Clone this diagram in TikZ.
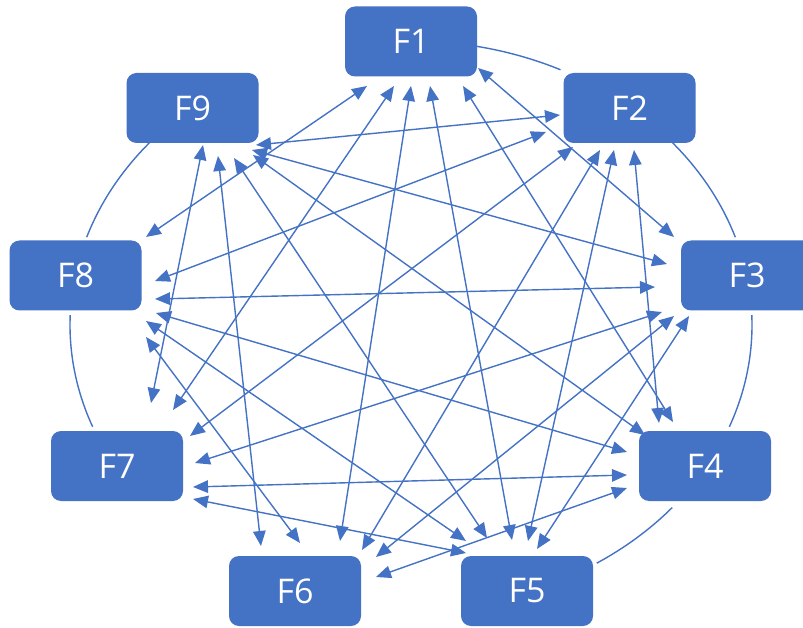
\documentclass[tikz,border=0pt]{standalone}
\usepackage{fontspec}
\setmainfont{Open Sans}
\usetikzlibrary{arrows.meta}
\definecolor{obl}{HTML}{4472C4}
\begin{document}
\begin{tikzpicture}[x=1pt,y=-1pt,
  fbox/.style={fill=obl, rounded corners=10pt, minimum width=132pt, minimum height=70pt, inner sep=0pt, text=white, font=\fontsize{34}{38}\selectfont},
  link/.style={draw=obl, line width=1.4pt, {Triangle[length=15pt,width=12.5pt]}-{Triangle[length=15pt,width=12.5pt]}},
  ring/.style={draw=obl, line width=1.4pt}]
\useasboundingbox (0,0) rectangle (803,628);
\clip (0,0) rectangle (803,628);
% nodes
\node[fbox] (F1) at (411,41.5) {F1};
\node[fbox] (F2) at (629.5,108) {F2};
\node[fbox] (F3) at (747,275.5) {F3};
\node[fbox] (F4) at (705,466) {F4};
\node[fbox] (F5) at (527,591) {F5};
\node[fbox] (F6) at (295,591) {F6};
\node[fbox] (F7) at (117,466) {F7};
\node[fbox] (F8) at (75.5,275.5) {F8};
\node[fbox] (F9) at (192.5,108) {F9};
% ring arcs
\coordinate (O) at (411,325);
\draw[ring] (O) ++(-79:341 and 284) arc[start angle=-79, end angle=-64, x radius=341, y radius=284];
\draw[ring] (O) ++(-40:341 and 284) arc[start angle=-40, end angle=-18, x radius=341, y radius=284];
\draw[ring] (O) ++(-2:341 and 284) arc[start angle=-2, end angle=21, x radius=341, y radius=284];
\draw[ring] (O) ++(40:341 and 284) arc[start angle=40, end angle=57, x radius=341, y radius=284];
\draw[ring] (O) ++(-178:341 and 284) arc[start angle=-178, end angle=-201, x radius=341, y radius=284];
\draw[ring] (O) ++(-162:341 and 284) arc[start angle=-162, end angle=-140, x radius=341, y radius=284];
% link end points
\coordinate (e13) at (478,68);  \coordinate (e31) at (674,237);
\coordinate (e14) at (463,86);  \coordinate (e41) at (673,422);
\coordinate (e15) at (430,86);  \coordinate (e51) at (512,540);
\coordinate (e16) at (411,86);  \coordinate (e61) at (340,541);
\coordinate (e17) at (394,86);  \coordinate (e71) at (173,410);
\coordinate (e18) at (367,86);  \coordinate (e81) at (146,237);
\coordinate (e24) at (634,150); \coordinate (e42) at (659,423);
\coordinate (e25) at (614,150); \coordinate (e52) at (528,541);
\coordinate (e26) at (600,150); \coordinate (e62) at (362,550);
\coordinate (e27) at (573,147); \coordinate (e72) at (190,436);
\coordinate (e28) at (546,132); \coordinate (e82) at (155,281);
\coordinate (e29) at (560,115); \coordinate (e92) at (256,145);
\coordinate (e35) at (689,316); \coordinate (e53) at (537,549);
\coordinate (e36) at (674,316); \coordinate (e63) at (376,557);
\coordinate (e37) at (662,312); \coordinate (e73) at (195,463);
\coordinate (e38) at (655,287); \coordinate (e83) at (155,299);
\coordinate (e39) at (667,264); \coordinate (e93) at (252,150);
\coordinate (e46) at (627,488); \coordinate (e64) at (376,577);
\coordinate (e47) at (627,475); \coordinate (e74) at (193,487);
\coordinate (e48) at (627,452); \coordinate (e84) at (156,313);
\coordinate (e49) at (645,435); \coordinate (e94) at (253,155);
\coordinate (e57) at (466,553); \coordinate (e75) at (193,499);
\coordinate (e58) at (466,541); \coordinate (e85) at (146,321);
\coordinate (e59) at (487,538); \coordinate (e95) at (234,158);
\coordinate (e68) at (300,543); \coordinate (e86) at (146,337);
\coordinate (e69) at (261,546); \coordinate (e96) at (218,156);
\coordinate (e79) at (151,403); \coordinate (e97) at (203,145);
% links
\foreach \a/\b in {1/3,1/4,1/5,1/6,1/7,1/8,2/4,2/5,2/6,2/7,2/8,2/9,3/5,3/6,3/7,3/8,3/9,4/6,4/7,4/8,4/9,5/7,5/8,5/9,6/8,6/9,7/9}
  \draw[link] (e\a\b) -- (e\b\a);
\end{tikzpicture}
\end{document}
